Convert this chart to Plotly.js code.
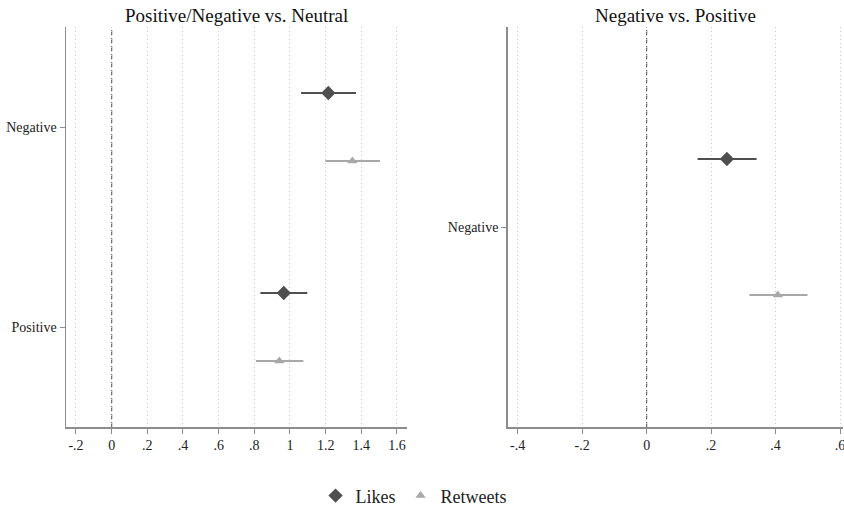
<!DOCTYPE html>
<html><head><meta charset="utf-8">
<script src="https://cdn.plot.ly/plotly-3.0.1.min.js"></script>
<style>body{margin:0;background:#fff}#chart{width:844px;height:506px}</style>
</head><body><div id="chart"></div>
<script>
// Panel 1: Positive/Negative vs. Neutral
const cats1 = ['Negative', 'Positive'];
const likes1 = [1.215, 0.965];
const likes1Lo = [1.062, 0.834];
const likes1Hi = [1.370, 1.097];
const rt1 = [1.350, 0.940];
const rt1Lo = [1.198, 0.809];
const rt1Hi = [1.505, 1.075];
// Panel 2: Negative vs. Positive
const cats2 = ['Negative'];
const likes2 = [0.249];
const likes2Lo = [0.158];
const likes2Hi = [0.341];
const rt2 = [0.407];
const rt2Lo = [0.319];
const rt2Hi = [0.499];
const xTicks1 = [-0.2, 0, 0.2, 0.4, 0.6, 0.8, 1, 1.2, 1.4, 1.6];
const xLabels1 = ['-.2', '0', '.2', '.4', '.6', '.8', '1', '1.2', '1.4', '1.6'];
const xTicks2 = [-0.4, -0.2, 0, 0.2, 0.4, 0.6];
const xLabels2 = ['-.4', '-.2', '0', '.2', '.4', '.6'];

const OFF = 0.17;
const likeColor = '#4f4f4f';
const rtColor = '#a8a8a8';
const font = 'Liberation Serif, Times New Roman, serif';

function pos(cats, d) { return cats.map((c, i) => i + 1 + d); }
function sub(a, b) { return a.map((v, i) => v - b[i]); }

function mk(x, lo, hi, cats, d, name, color, sym, size, xa, ya, show) {
  return {
    type: 'scatter', mode: 'markers', name: name, showlegend: show,
    x: x, y: pos(cats, d), xaxis: xa, yaxis: ya,
    marker: {symbol: sym, size: size, color: color},
    error_x: {type: 'data', symmetric: false, array: sub(hi, x), arrayminus: sub(x, lo),
              color: color, thickness: 2, width: 0},
    hoverinfo: 'x'
  };
}

const traces = [
  mk(likes1, likes1Lo, likes1Hi, cats1, -OFF, 'Likes', likeColor, 'diamond', 11, 'x', 'y', true),
  mk(rt1, rt1Lo, rt1Hi, cats1, OFF, 'Retweets', rtColor, 'triangle-up', 9, 'x', 'y', true),
  mk(likes2, likes2Lo, likes2Hi, cats2, -OFF, 'Likes', likeColor, 'diamond', 11, 'x2', 'y2', false),
  mk(rt2, rt2Lo, rt2Hi, cats2, OFF, 'Retweets', rtColor, 'triangle-up', 9, 'x2', 'y2', false)
];

const yDom = [0.1561, 0.9466];
const xBase = {
  showgrid: true, gridcolor: '#c8c8c8', griddash: '1px,3px', gridwidth: 1,
  zeroline: false, showline: true, linecolor: '#8c8c8c', linewidth: 1.5,
  ticks: 'outside', ticklen: 5, tickcolor: '#8c8c8c', tickwidth: 1,
  tickfont: {family: font, size: 14, color: '#222'}, tickmode: 'array', automargin: false,
  ticklabeloverflow: 'allow'
};
const yBase = {
  showgrid: false, zeroline: false, showline: true, linecolor: '#8c8c8c', linewidth: 1.5,
  ticks: 'outside', ticklen: 5, tickcolor: '#8c8c8c',
  tickfont: {family: font, size: 14, color: '#222'}, tickmode: 'array', automargin: false,
  ticklabeloverflow: 'allow'
};

const layout = {
  width: 844, height: 506,
  margin: {l: 0, r: 0, t: 0, b: 0, autoexpand: false},
  paper_bgcolor: '#fff', plot_bgcolor: '#fff',
  font: {family: font, color: '#222'},
  showlegend: true,
  legend: {orientation: 'h', x: 0.49, xanchor: 'center', y: 0.02, yanchor: 'middle',
           font: {family: font, size: 18, color: '#222'}, itemwidth: 30, tracegroupgap: 0},
  xaxis: Object.assign({}, xBase, {domain: [0.0782, 0.4822], range: [-0.256, 1.656],
           tickvals: xTicks1, ticktext: xLabels1, anchor: 'y'}),
  yaxis: Object.assign({}, yBase, {domain: yDom, range: [2.5, 0.5],
           tickvals: cats1.map((c, i) => i + 1), ticktext: cats1, anchor: 'x'}),
  xaxis2: Object.assign({}, xBase, {domain: [0.6015, 0.9988], range: [-0.431, 0.609],
           tickvals: xTicks2, ticktext: xLabels2, anchor: 'y2'}),
  yaxis2: Object.assign({}, yBase, {domain: yDom, range: [1.5, 0.5],
           tickvals: cats2.map((c, i) => i + 1), ticktext: cats2, anchor: 'x2'}),
  shapes: [
    {type: 'line', xref: 'x', yref: 'y domain', x0: 0, x1: 0, y0: 0, y1: 1,
     line: {color: '#666', width: 1.2, dash: '5px,3px'}, layer: 'below'},
    {type: 'line', xref: 'x2', yref: 'y2 domain', x0: 0, x1: 0, y0: 0, y1: 1,
     line: {color: '#666', width: 1.2, dash: '5px,3px'}, layer: 'below'}
  ],
  annotations: [
    {text: 'Positive/Negative vs. Neutral', xref: 'x domain', yref: 'paper', x: 0.5, y: 0.97,
     xanchor: 'center', yanchor: 'middle', showarrow: false,
     font: {family: font, size: 19, color: '#111'}},
    {text: 'Negative vs. Positive', xref: 'x2 domain', yref: 'paper', x: 0.5, y: 0.97,
     xanchor: 'center', yanchor: 'middle', showarrow: false,
     font: {family: font, size: 19, color: '#111'}}
  ]
};

Plotly.newPlot('chart', traces, layout, {displayModeBar: false, staticPlot: true});
</script>
</body></html>
